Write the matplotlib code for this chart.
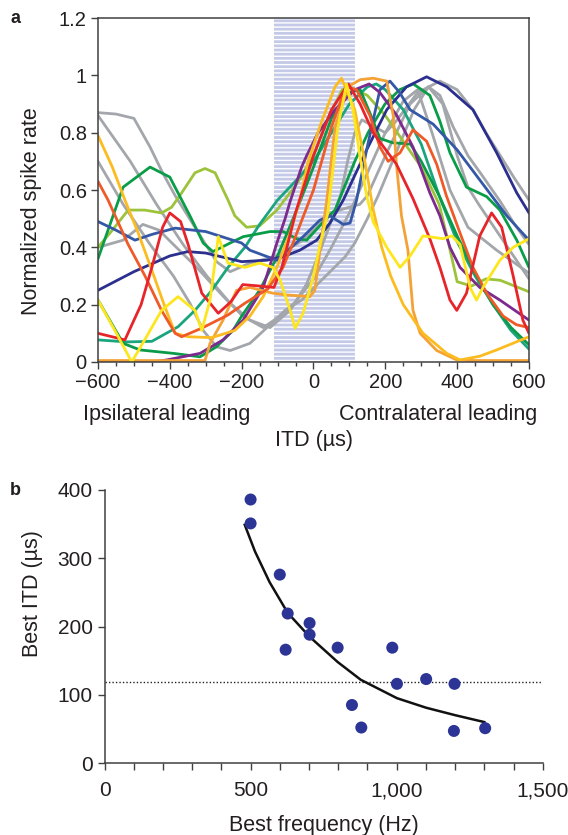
import matplotlib
matplotlib.use("Agg")
from matplotlib import pyplot as plt
from matplotlib.ticker import MultipleLocator, FixedLocator

plt.rcParams['font.family'] = ['Liberation Sans', 'DejaVu Sans']
plt.rcParams['hatch.linewidth'] = 1.0

# ---- panel a: ITD tuning curves (x in microseconds, y normalised rate) ----
grayA_x = [-600, -550, -500, -455, -420, -385, -340, -300, -270, -232, -177, -102, -29, 10, 46, 100, 129, 150, 204, 269, 320, 352, 389, 430, 470, 520, 560, 600]
grayA_y = [0.87, 0.865, 0.85, 0.75, 0.66, 0.58, 0.49, 0.41, 0.35, 0.315, 0.345, 0.37, 0.425, 0.47, 0.52, 0.54, 0.55, 0.58, 0.73, 0.90, 0.96, 0.93, 0.82, 0.72, 0.65, 0.56, 0.48, 0.41]
grayB_x = [-600, -510, -437, -363, -297, -232, -177, -121, -65, -20, 10, 40, 75, 95, 115, 135, 170, 200, 230, 290, 352, 400, 444, 480, 520, 560, 600]
grayB_y = [0.86, 0.70, 0.55, 0.41, 0.30, 0.205, 0.146, 0.12, 0.18, 0.27, 0.36, 0.46, 0.58, 0.70, 0.80, 0.845, 0.82, 0.80, 0.84, 0.94, 0.98, 0.95, 0.88, 0.80, 0.72, 0.64, 0.565]
grayC_x = [-600, -530, -455, -390, -344, -307, -270, -232, -177, -127, -79, -33, 23, 88, 115, 150, 180, 230, 280, 320, 360, 400, 430, 460, 530, 600]
grayC_y = [0.70, 0.55, 0.41, 0.30, 0.205, 0.11, 0.053, 0.04, 0.065, 0.123, 0.18, 0.216, 0.286, 0.367, 0.415, 0.50, 0.58, 0.73, 0.88, 0.96, 0.90, 0.72, 0.61, 0.55, 0.42, 0.29]
grayD_x = [-600, -530, -475, -430, -390, -325, -252, -197, -140, -93, -50, 0, 50, 100, 150, 200, 250, 290, 330, 380, 430, 510, 600]
grayD_y = [0.40, 0.425, 0.48, 0.46, 0.41, 0.33, 0.23, 0.16, 0.12, 0.16, 0.21, 0.29, 0.40, 0.52, 0.66, 0.80, 0.91, 0.95, 0.80, 0.60, 0.47, 0.39, 0.31]

navy_x = [-600, -500, -400, -350, -300, -200, -130, -85, -38, 9, 46, 83, 148, 204, 259, 315, 371, 444, 510, 566, 600]
navy_y = [0.25, 0.315, 0.37, 0.385, 0.38, 0.35, 0.355, 0.367, 0.39, 0.425, 0.485, 0.565, 0.74, 0.88, 0.96, 0.995, 0.96, 0.88, 0.73, 0.59, 0.52]
blue_x = [-600, -550, -497, -450, -385, -300, -200, -177, -102, -29, 18, 46, 83, 102, 120, 148, 185, 213, 240, 269, 333, 400, 472, 538, 600]
blue_y = [0.49, 0.46, 0.425, 0.445, 0.467, 0.455, 0.415, 0.39, 0.355, 0.437, 0.495, 0.51, 0.48, 0.485, 0.565, 0.74, 0.95, 0.98, 0.94, 0.88, 0.83, 0.74, 0.62, 0.51, 0.425]
green1_x = [-600, -530, -455, -400, -344, -307, -280, -232, -196, -121, -84, -47, -19, 32, 60, 115, 152, 199, 240, 278, 324, 352, 380, 426, 482, 519, 566, 600]
green1_y = [0.36, 0.61, 0.68, 0.645, 0.51, 0.415, 0.385, 0.415, 0.437, 0.455, 0.455, 0.43, 0.425, 0.495, 0.53, 0.70, 0.80, 0.90, 0.95, 0.97, 0.93, 0.84, 0.73, 0.61, 0.577, 0.53, 0.425, 0.33]
green2_x = [-600, -530, -483, -390, -316, -270, -224, -200, -150, -100, -50, 0, 50, 100, 130, 160, 185, 220, 270, 300, 350, 400, 450, 500, 550, 600]
green2_y = [0.216, 0.065, 0.042, 0.03, 0.018, 0.053, 0.11, 0.16, 0.25, 0.37, 0.52, 0.68, 0.85, 0.94, 0.95, 0.86, 0.78, 0.765, 0.76, 0.70, 0.58, 0.44, 0.31, 0.20, 0.12, 0.06]
teal_x = [-600, -520, -450, -377, -330, -283, -238, -191, -150, -100, -47, 0, 50, 100, 150, 175, 200, 250, 300, 350, 400, 450, 500, 550, 600]
teal_y = [0.077, 0.07, 0.072, 0.123, 0.18, 0.25, 0.33, 0.40, 0.48, 0.565, 0.635, 0.70, 0.80, 0.90, 0.96, 0.97, 0.95, 0.88, 0.76, 0.58, 0.42, 0.30, 0.20, 0.11, 0.045]
lgreen_x = [-600, -560, -516, -470, -423, -395, -367, -330, -302, -274, -238, -219, -186, -150, -102, -47, 0, 40, 80, 100, 150, 200, 250, 300, 350, 375, 400, 440, 480, 520, 560, 600]
lgreen_y = [0.40, 0.46, 0.53, 0.53, 0.52, 0.54, 0.59, 0.66, 0.675, 0.66, 0.565, 0.51, 0.47, 0.475, 0.53, 0.62, 0.72, 0.85, 0.95, 0.96, 0.93, 0.86, 0.77, 0.68, 0.55, 0.42, 0.28, 0.265, 0.29, 0.285, 0.265, 0.245]
purple_x = [-600, -450, -409, -316, -252, -196, -140, -102, -79, -65, -33, -19, 13, 60, 115, 155, 185, 232, 277, 324, 352, 380, 408, 463, 519, 600]
purple_y = [0.0, 0.0, 0.007, 0.03, 0.077, 0.146, 0.26, 0.415, 0.50, 0.56, 0.68, 0.72, 0.80, 0.88, 0.95, 0.97, 0.94, 0.86, 0.75, 0.59, 0.51, 0.40, 0.33, 0.26, 0.216, 0.146]
orange_x = [-600, -302, -288, -252, -214, -177, -113, -75, -10, 4, 18, 37, 60, 96, 130, 166, 204, 222, 231, 245, 263, 277, 297, 343, 399, 450, 600]
orange_y = [0.005, 0.005, 0.065, 0.146, 0.25, 0.26, 0.24, 0.234, 0.228, 0.25, 0.39, 0.565, 0.82, 0.96, 0.985, 0.99, 0.98, 0.86, 0.69, 0.51, 0.39, 0.18, 0.10, 0.04, 0.007, 0.005, 0.005]
gold_x = [-600, -560, -525, -488, -450, -413, -385, -349, -283, -219, -177, -140, -102, -65, -38, -15, 23, 60, 78, 115, 143, 165, 190, 215, 250, 305, 371, 408, 463, 510, 600]
gold_y = [0.79, 0.68, 0.565, 0.45, 0.32, 0.19, 0.10, 0.088, 0.085, 0.11, 0.16, 0.228, 0.33, 0.45, 0.565, 0.70, 0.84, 0.96, 0.99, 0.88, 0.70, 0.54, 0.40, 0.30, 0.20, 0.10, 0.03, 0.007, 0.02, 0.042, 0.088]
yellow_x = [-600, -553, -506, -470, -423, -377, -330, -311, -288, -265, -238, -191, -150, -113, -93, -65, -51, -29, 0, 20, 40, 68, 92, 110, 129, 148, 166, 204, 241, 269, 305, 361, 385, 408, 436, 454, 472, 519, 556, 600]
yellow_y = [0.216, 0.11, 0.0, 0.077, 0.18, 0.228, 0.18, 0.11, 0.216, 0.437, 0.345, 0.33, 0.345, 0.33, 0.286, 0.18, 0.118, 0.17, 0.30, 0.42, 0.52, 0.82, 0.97, 0.88, 0.72, 0.58, 0.49, 0.40, 0.33, 0.37, 0.44, 0.43, 0.44, 0.41, 0.26, 0.216, 0.26, 0.355, 0.40, 0.43]
red_x = [-600, -525, -480, -450, -420, -400, -370, -349, -311, -265, -230, -197, -150, -110, -88, -50, 0, 50, 97, 130, 166, 231, 277, 324, 352, 380, 399, 426, 463, 496, 524, 556, 583, 600]
red_y = [0.10, 0.077, 0.2, 0.33, 0.47, 0.52, 0.49, 0.41, 0.24, 0.17, 0.21, 0.27, 0.265, 0.26, 0.33, 0.52, 0.72, 0.88, 0.97, 0.90, 0.80, 0.69, 0.57, 0.43, 0.33, 0.216, 0.18, 0.24, 0.44, 0.52, 0.47, 0.30, 0.146, 0.10]
redor_x = [-600, -572, -516, -469, -423, -385, -367, -311, -238, -191, -127, -85, -57, 0, 50, 90, 120, 157, 185, 208, 241, 277, 315, 343, 370, 408, 444, 482, 528, 565, 600]
redor_y = [0.63, 0.565, 0.41, 0.30, 0.18, 0.10, 0.088, 0.118, 0.164, 0.205, 0.255, 0.33, 0.415, 0.60, 0.82, 0.96, 0.95, 0.86, 0.75, 0.70, 0.73, 0.81, 0.77, 0.69, 0.58, 0.45, 0.33, 0.24, 0.16, 0.13, 0.12]

# ---- panel b: best ITD vs best frequency ----
best_freq = [500, 500, 600, 627, 620, 702, 702, 798, 847, 879, 985, 1001, 1101, 1198, 1196, 1303]
best_itd = [386, 351, 276, 219, 166, 205, 188, 169, 85, 52, 169, 116, 123, 116, 47, 51]
fit_freq = [480, 515, 565, 627, 702, 798, 877, 1001, 1101, 1201, 1300]
fit_itd = [349, 310, 265, 220, 185, 148, 122, 95, 81, 70, 60]
itd_line = 118

curvas = [
    (grayA_x, grayA_y, '#a3a6aa'),
    (grayB_x, grayB_y, '#a3a6aa'),
    (grayC_x, grayC_y, '#a3a6aa'),
    (grayD_x, grayD_y, '#a3a6aa'),
    (lgreen_x, lgreen_y, '#9dc33b'),
    (teal_x, teal_y, '#1aa57e'),
    (green2_x, green2_y, '#0b9a4a'),
    (green1_x, green1_y, '#0a9d48'),
    (navy_x, navy_y, '#2b2f8e'),
    (blue_x, blue_y, '#3457a6'),
    (purple_x, purple_y, '#7d2a8e'),
    (orange_x, orange_y, '#f4a236'),
    (gold_x, gold_y, '#fcbc20'),
    (redor_x, redor_y, '#ef5a28'),
    (red_x, red_y, '#e8242b'),
    (yellow_x, yellow_y, '#fde61e'),
]

texto = '#231f20'
eixo = '#404040'
fs_tick = 14.5
fs_lab = 15.5

fig = plt.figure(figsize=(5.68, 8.35), dpi=100)

# criando o painel a
ax1 = fig.add_axes([0.1725, 0.5665, 0.7588, 0.4119])
ax1.axvspan(-110, 115, facecolor='#c3c9e6', edgecolor='white', hatch='----', linewidth=0, zorder=0)
for cx, cy, cor in curvas:
    ax1.plot(cx, cy, color=cor, lw=2.0, solid_joinstyle='round', solid_capstyle='round', zorder=2)
ax1.set_xlim(-600, 600)
ax1.set_ylim(0, 1.2)
ax1.xaxis.set_major_locator(MultipleLocator(200))
ax1.xaxis.set_minor_locator(MultipleLocator(50))
ax1.yaxis.set_major_locator(FixedLocator([0, 0.2, 0.4, 0.6, 0.8, 1.0, 1.2]))
ax1.set_yticklabels(['0', '0.2', '0.4', '0.6', '0.8', '1', '1.2'])
ax1.tick_params(which='major', direction='out', length=5, width=1, color=eixo, labelsize=fs_tick, labelcolor=texto, pad=3)
ax1.tick_params(which='minor', direction='out', length=3, width=1, color=eixo)
for s in ax1.spines.values():
    s.set_color(eixo)
    s.set_linewidth(1.1)
ax1.set_ylabel('Normalized spike rate', fontsize=fs_lab, color=texto)
ax1.yaxis.set_label_coords(-0.13, 0.44)

fig.text(0.294, 0.503, 'Ipsilateral leading', fontsize=fs_lab, color=texto, ha='center', va='center')
fig.text(0.772, 0.503, 'Contralateral leading', fontsize=fs_lab, color=texto, ha='center', va='center')
fig.text(0.552, 0.472, 'ITD (\u00b5s)', fontsize=fs_lab, color=texto, ha='center', va='center')
fig.text(0.018, 0.978, 'a', fontsize=13, fontweight='bold', color=texto, va='center')

# criando o painel b
ax2 = fig.add_axes([0.184, 0.0862, 0.7715, 0.327])
ax2.plot(fit_freq, fit_itd, color='#111111', lw=1.8, zorder=2)
ax2.axhline(itd_line, color='#222222', lw=1.0, ls=(0, (1, 1.5)), zorder=1)
ax2.scatter(best_freq, best_itd, s=75, color='#2c3595', edgecolors='none', zorder=3)
ax2.set_xlim(0, 1500)
ax2.set_ylim(0, 400)
ax2.xaxis.set_major_locator(FixedLocator([0, 500, 1000, 1500]))
ax2.set_xticklabels(['0', '500', '1,000', '1,500'])
ax2.xaxis.set_minor_locator(MultipleLocator(100))
ax2.yaxis.set_major_locator(MultipleLocator(100))
ax2.tick_params(which='both', direction='out', length=5, width=1, color=eixo, labelsize=15, labelcolor=texto)
ax2.tick_params(axis='x', which='major', pad=8)
ax2.spines['top'].set_visible(False)
ax2.spines['right'].set_visible(False)
for s in ['left', 'bottom']:
    ax2.spines[s].set_color(eixo)
    ax2.spines[s].set_linewidth(1.1)
ax2.set_xlabel('Best frequency (Hz)', fontsize=fs_lab, color=texto)
ax2.xaxis.set_label_coords(0.5, -0.19)
ax2.set_ylabel('Best ITD (\u00b5s)', fontsize=fs_lab, color=texto)
ax2.yaxis.set_label_coords(-0.14, 0.62)
fig.text(0.018, 0.413, 'b', fontsize=13, fontweight='bold', color=texto, va='center')

fig.savefig('out.png', dpi=100)
